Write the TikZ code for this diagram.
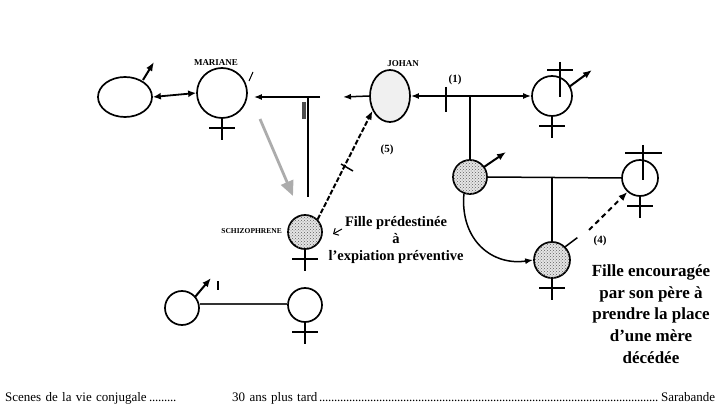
\documentclass[tikz,border=0pt]{standalone}
\usepackage{fontspec}
\setmainfont{Liberation Serif}
\usetikzlibrary{arrows.meta,patterns,shapes.geometric,calc}
\newcommand{\femx}[1]{\draw[line width=1.5pt] (#1.south) -- ++(0,21) ($(#1.south)+(-13,9)$) -- ++(26,0);}
\newcommand{\tightdots}{\leaders\hbox to 3pt{\hss.\hss}\hfill}
\begin{document}
\begin{tikzpicture}[x=1pt,y=-1pt,
  pers/.style={draw,line width=1.7pt,circle,inner sep=0pt},
  oval/.style={draw,line width=1.7pt,ellipse,inner sep=0pt},
  dotty/.style={fill=gray!20,postaction={pattern=crosshatch dots,pattern color=gray!75!black}},
  malearrow/.style={line width=2pt,-{Latex[length=9pt,width=7pt]}},
  link/.style={line width=1.5pt},
  arr/.style={line width=1.5pt,-{Latex[length=8pt,width=6pt]}},
  lab/.style={font=\bfseries\fontsize{9}{9}\selectfont,inner sep=0pt},
  num/.style={font=\bfseries\fontsize{11}{11}\selectfont,inner sep=0pt},
  note/.style={font=\bfseries\fontsize{14.5}{17}\selectfont,align=center,inner sep=0pt},
  big/.style={font=\bfseries\fontsize{17}{21.8}\selectfont,align=center,inner sep=0pt},
  foot/.style={font=\fontsize{13}{13}\selectfont,inner sep=0pt,anchor=west}]
\useasboundingbox (0,0) rectangle (719,411);

% ---- top family ----
\node[oval,minimum width=54pt,minimum height=40pt] (L) at (125,97) {};
\node[pers,minimum size=50pt] (M) at (222,93) {};
\node[lab] (mlab) at (216,63) {MARIANE};
\node[oval,fill=gray!12,minimum width=40pt,minimum height=52pt] (J) at (390,96) {};
\node[lab] (jlab) at (403,64) {JOHAN};
\node[pers,minimum size=40pt] (R) at (552,96) {};
\node[pers,dotty,minimum size=34pt] (S) at (305,232) {};
\node[lab,anchor=east,font=\bfseries\fontsize{7.5}{8}\selectfont] (slab) at (282,231) {SCHIZOPHRENE};
\node[pers,dotty,minimum size=34pt] (F) at (470,177) {};
\node[pers,minimum size=36pt] (T) at (640,178) {};
\node[pers,dotty,minimum size=36pt] (B) at (552,260) {};

% female crosses
\femx{M}
\femx{R}
\femx{S}
\femx{T}
\femx{B}

% male arrows
\draw[malearrow] (143,80) -- (154,62);
\draw[malearrow] (569,87) -- (592,70);
\draw[malearrow] (484,167) -- (506,152);

% crosses on top
\draw[line width=2pt] (560,62) -- (560,97) (547,70) -- (573,70);
\draw[line width=2pt] (643,145) -- (643,180) (625,153) -- (662,153);

% links top left
\draw[line width=1.8pt,{Latex[length=8pt,width=7pt]}-{Latex[length=8pt,width=7pt]}] (L.east) -- (M.west);
\coordinate (mr) at (320,97);
\coordinate (mv) at (308,97);
\coordinate (mvb) at (308,197);
\draw[arr] (mr) -- ($(M.east |- mr)+(6,0)$);
\draw[line width=1.8pt] (mv) -- (mvb);
\draw[gray!60!black,line width=3.5pt] (304,102) -- (304,119);
\draw[line width=1pt] (249,81) -- (253,72);
\coordinate (g1) at (260,119);
\coordinate (g2) at (293,196);
\draw[gray!65,line width=2.8pt,-{Triangle[length=15pt,width=13pt]}] (g1) -- (g2);

% Johan links
\coordinate (jl) at (343,97);
\draw[arr] (J.west) -- (jl);
\draw[line width=1.5pt,{Latex[length=8pt,width=6pt]}-{Latex[length=8pt,width=6pt]}] (J.east) -- (R.west);
\draw[line width=1.3pt] (446,87) -- (446,112);
\node[num] (n1) at (455,80) {(1)};
\coordinate (br) at (470,97);
\draw[link] (br) -- (F.north);

% (5) arrow
\draw[line width=2pt,dash pattern=on 5pt off 2pt,-{Latex[length=9pt,width=7pt]}] (S.north east) -- (J.220);
\draw[line width=1.5pt] (341,164) -- (353,171);
\node[num] (n5) at (387,150) {(5)};

% second family
\coordinate (hb) at (552,177);
\draw[link] (F.east) -- (T.west);
\draw[link] (hb) -- (B.north);
\draw[arr] (F.250) .. controls (460,240) and (492,266) .. (B.west);
\coordinate (d1) at (589,230);
\draw[link] (B.45) -- ++(12,-9);
\draw[line width=2pt,dash pattern=on 5pt off 4pt,-{Latex[length=9pt,width=7pt]}] (d1) -- (T.228);
\node[num] (n4) at (600,241) {(4)};

% notes
\node[note] (txt1) at (396,240) {Fille prédestinée\\à\\l'expiation préventive};
\draw[line width=1pt,-{Straight Barb[length=4pt]}] (342,229) -- (333,234);
\node[big] (txt2) at (651,314) {Fille encouragée\\par son père à\\prendre la place\\d'une mère\\décédée};

% bottom couple
\node[pers,minimum size=34pt] (BL) at (182,308) {};
\node[pers,minimum size=34pt] (BR) at (305,305) {};
\femx{BR}
\draw[malearrow] (195,297) -- (211,278);
\draw[line width=1.5pt] (218,281) -- (218,290);
\draw[gray!40!black,line width=2.2pt] (BL.east |- 0,304) -- (BR.west |- 0,304);

% footer
\node[foot,text width=173pt] (f1) at (5,398) {Scenes de la vie conjugale\tightdots\hbox{}};
\node[foot,text width=483pt] (f2) at (232,398) {30 ans plus tard\tightdots Sarabande};
\end{tikzpicture}
\end{document}
